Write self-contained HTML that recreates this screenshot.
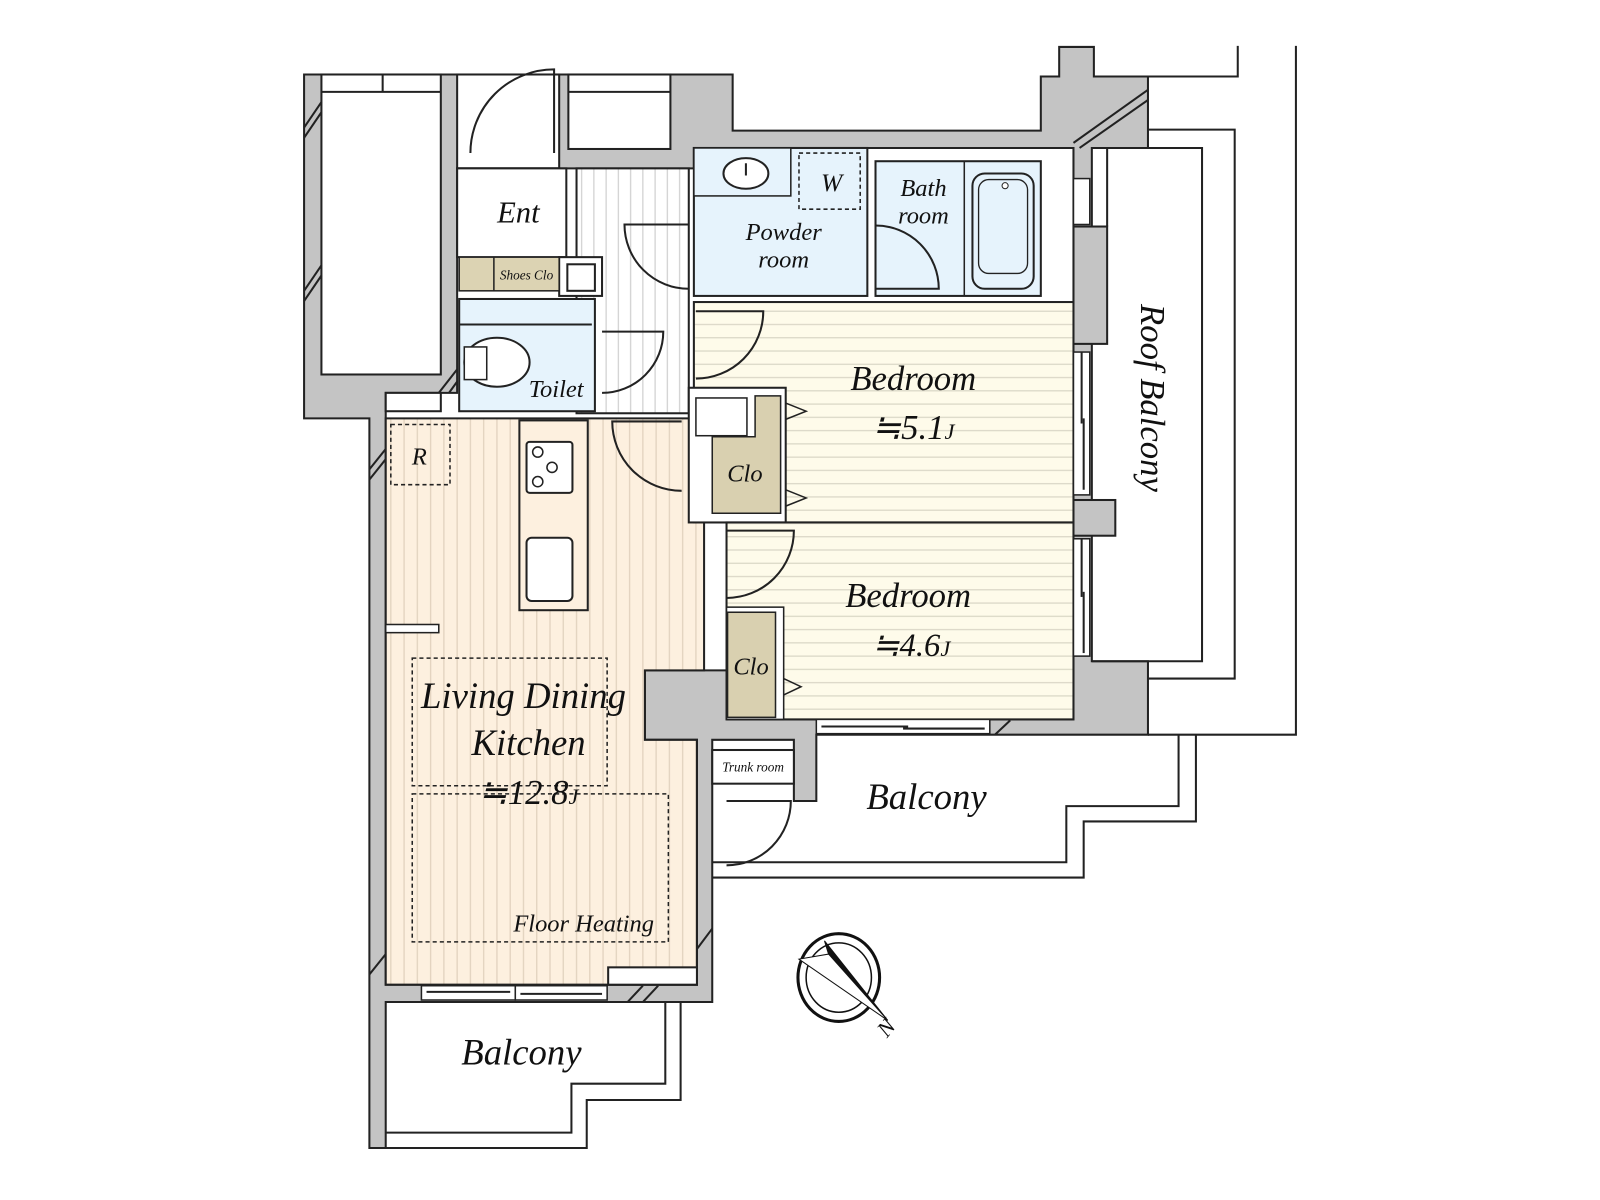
<!DOCTYPE html>
<html><head><meta charset="utf-8"><style>html,body{margin:0;padding:0;background:#fff}svg{display:block}text{font-family:"Liberation Serif",serif;font-style:italic;fill:#111}</style></head><body>
<svg width="1600" height="1200" viewBox="0 0 1568 1176" xmlns="http://www.w3.org/2000/svg">
<defs>
<pattern id="vs" width="13" height="10" patternUnits="userSpaceOnUse"><rect width="13" height="10" fill="#fdf0df"/><line x1="6" y1="0" x2="6" y2="10" stroke="#e2d3bf" stroke-width="1.3"/></pattern>
<pattern id="hv" width="12" height="10" patternUnits="userSpaceOnUse"><rect width="12" height="10" fill="#fff"/><line x1="6" y1="0" x2="6" y2="10" stroke="#cfcfcf" stroke-width="1.2"/></pattern>
<pattern id="hs" width="10" height="13" patternUnits="userSpaceOnUse"><rect width="10" height="13" fill="#fefbea"/><line x1="0" y1="6" x2="10" y2="6" stroke="#d9d6c6" stroke-width="1.2"/></pattern>
</defs>
<g stroke="#222" stroke-width="2" fill="none">
<polyline points="1213,45 1213,75 1072,75"/>
<polyline points="1270,45 1270,720 1125,720"/>
<polyline points="1125,127 1210,127 1210,665 1125,665"/>
<polyline points="1155,720 1155,790 1045,790 1045,845 698,845"/>
<polyline points="1172,720 1172,805 1062,805 1062,860 698,860"/>
<polyline points="652,982 652,1062 560,1062 560,1110 378,1110"/>
<polyline points="667,982 667,1078 575,1078 575,1125 362,1125"/>
</g>
<polygon fill="#c4c4c4" stroke="#222" stroke-width="2" points="298,73 718,73 718,128 1020,128 1020,75 1038,75 1038,46 1072,46 1072,75 1125,75 1125,145 1070,145 1070,648 1125,648 1125,720 800,720 800,785 778,785 778,725 698,725 698,982 378,982 378,1125 362,1125 362,410 298,410"/>
<rect x="1052" y="222" width="33" height="115" fill="#c4c4c4" stroke="#222" stroke-width="2"/>
<rect x="1052" y="490" width="41" height="35" fill="#c4c4c4" stroke="#222" stroke-width="2"/>
<polyline points="1085,222 1085,145 1178,145 1178,648 1070,648" fill="none" stroke="#222" stroke-width="2"/>
<rect x="448" y="73" width="100" height="92" fill="#fff" stroke="#222" stroke-width="2"/>
<rect x="557" y="73" width="100" height="73" fill="#fff" stroke="#222" stroke-width="2"/>
<line x1="557" y1="90" x2="657" y2="90" stroke="#222" stroke-width="2"/>
<rect x="315" y="73" width="117" height="294" fill="#fff" stroke="#222" stroke-width="2"/>
<line x1="315" y1="90" x2="432" y2="90" stroke="#222" stroke-width="2"/>
<line x1="375" y1="73" x2="375" y2="90" stroke="#222" stroke-width="2"/>
<polygon fill="#fff" stroke="#222" stroke-width="2" points="448,165 680,165 680,145 1052,145 1052,705 713,705 713,657 632,657 632,725 683,725 683,965 378,965 378,385 448,385"/>
<rect x="378" y="385" width="54" height="18" fill="#fff" stroke="#222" stroke-width="2"/>
<polygon fill="url(#vs)" stroke="#222" stroke-width="2" points="378,410 690,410 690,657 632,657 632,725 683,725 683,965 378,965"/>
<rect x="596" y="948" width="87" height="17" fill="#fff" stroke="#222" stroke-width="2"/>
<rect x="378" y="612" width="52" height="8" fill="#fff" stroke="#222" stroke-width="1.5"/>
<rect x="565" y="165" width="110" height="240" fill="url(#hv)" stroke="#222" stroke-width="2"/>
<rect x="448" y="165" width="107" height="87" fill="#fff" stroke="#222" stroke-width="2"/>
<rect x="548" y="252" width="42" height="38" fill="#fff" stroke="#222" stroke-width="2"/>
<rect x="556" y="259" width="27" height="26" fill="#fff" stroke="#222" stroke-width="2"/>
<rect x="450" y="252" width="98" height="33" fill="#dcd3b3" stroke="#222" stroke-width="1.5"/>
<line x1="484" y1="252" x2="484" y2="285" stroke="#222" stroke-width="1.5"/>
<rect x="450" y="293" width="133" height="110" fill="#e6f3fc" stroke="#222" stroke-width="2"/>
<line x1="450" y1="318" x2="580" y2="318" stroke="#222" stroke-width="2"/>
<ellipse cx="487" cy="355" rx="32" ry="24" fill="#fff" stroke="#222" stroke-width="2"/>
<rect x="455" y="340" width="22" height="32" fill="#fff" stroke="#222" stroke-width="1.5"/>
<rect x="680" y="145" width="170" height="145" fill="#e6f3fc" stroke="#222" stroke-width="2"/>
<rect x="680" y="145" width="95" height="47" fill="#e6f3fc" stroke="#222" stroke-width="1.5"/>
<ellipse cx="731" cy="170" rx="22" ry="15" fill="#fff" stroke="#222" stroke-width="2"/>
<line x1="731" y1="160" x2="731" y2="172" stroke="#222" stroke-width="2"/>
<rect x="783" y="150" width="60" height="55" fill="none" stroke="#222" stroke-width="1.5" stroke-dasharray="4,3"/>
<rect x="858" y="158" width="162" height="132" fill="#e6f3fc" stroke="#222" stroke-width="2"/>
<line x1="945" y1="158" x2="945" y2="290" stroke="#222" stroke-width="1.5"/>
<rect x="953" y="170" width="60" height="113" rx="12" fill="#e6f3fc" stroke="#222" stroke-width="2"/>
<rect x="959" y="176" width="48" height="92" rx="10" fill="none" stroke="#222" stroke-width="1.3"/>
<circle cx="985" cy="182" r="3" fill="#fff" stroke="#222"/>
<rect x="680" y="296" width="372" height="216" fill="url(#hs)" stroke="#222" stroke-width="2"/>
<rect x="675" y="380" width="95" height="132" fill="#fff" stroke="#222" stroke-width="2"/>
<rect x="682" y="390" width="50" height="37" fill="#fff" stroke="#222" stroke-width="1.5"/>
<polygon points="740,388 765,388 765,503 698,503 698,428 740,428" fill="#d9d0b0" stroke="#222" stroke-width="1.5"/>
<polyline points="770,395 790,403 770,411" fill="none" stroke="#222" stroke-width="1.5"/>
<polyline points="770,480 790,488 770,496" fill="none" stroke="#222" stroke-width="1.5"/>
<rect x="712" y="512" width="340" height="193" fill="url(#hs)" stroke="#222" stroke-width="2"/>
<rect x="712" y="595" width="56" height="110" fill="#fff" stroke="#222" stroke-width="1.5"/>
<rect x="713" y="600" width="47" height="103" fill="#d9d0b0" stroke="#222" stroke-width="1.5"/>
<polyline points="768,665 785,673 768,681" fill="none" stroke="#222" stroke-width="1.5"/>
<g fill="#fff" stroke="#222" stroke-width="1.5">
<rect x="1052" y="175" width="16" height="45"/><rect x="1052" y="345" width="16" height="140"/><rect x="1052" y="528" width="16" height="115"/>
<rect x="800" y="705" width="170" height="14"/><rect x="413" y="966" width="92" height="14"/><rect x="505" y="966" width="90" height="14"/>
</g>
<g stroke="#222" stroke-width="2" fill="none">
<line x1="1060" y1="345" x2="1060" y2="415"/><line x1="1062" y1="410" x2="1062" y2="480"/>
<line x1="1060" y1="528" x2="1060" y2="585"/><line x1="1062" y1="580" x2="1062" y2="640"/>
<line x1="805" y1="712" x2="890" y2="712"/><line x1="885" y1="714" x2="965" y2="714"/>
<line x1="418" y1="972" x2="500" y2="972"/><line x1="510" y1="974" x2="590" y2="974"/>
<line x1="1052" y1="140" x2="1125" y2="88"/><line x1="1058" y1="145" x2="1125" y2="98"/>
<line x1="298" y1="125" x2="315" y2="100"/><line x1="298" y1="135" x2="315" y2="110"/>
<line x1="298" y1="285" x2="315" y2="260"/><line x1="298" y1="295" x2="315" y2="270"/>
<line x1="430" y1="385" x2="448" y2="362"/><line x1="440" y1="385" x2="448" y2="374"/>
<line x1="362" y1="460" x2="378" y2="440"/><line x1="362" y1="470" x2="378" y2="450"/>
<line x1="362" y1="955" x2="378" y2="935"/><line x1="683" y1="930" x2="698" y2="910"/>
<line x1="615" y1="982" x2="630" y2="966"/><line x1="630" y1="982" x2="645" y2="966"/>
<line x1="975" y1="720" x2="990" y2="706"/>
<path d="M543,150 L543,68 A82,82 0 0 0 461,150"/>
<path d="M675,220 L612,220 A63,63 0 0 0 675,283"/>
<path d="M590,325 L650,325 A60,60 0 0 1 590,385"/>
<path d="M858,283 L920,283 A62,62 0 0 0 858,221"/>
<path d="M682,305 L748,305 A66,66 0 0 1 682,371"/>
<path d="M668,413 L600,413 A68,68 0 0 0 668,481"/>
<path d="M712,520 L778,520 A66,66 0 0 1 712,586"/>
<path d="M712,785 L775,785 A63,63 0 0 1 712,848"/>
</g>
<rect x="509" y="412" width="67" height="186" fill="#fdf0df" stroke="#222" stroke-width="2"/>
<rect x="516" y="433" width="45" height="50" rx="3" fill="#fff" stroke="#222" stroke-width="2"/>
<circle cx="527" cy="443" r="5" fill="none" stroke="#222" stroke-width="1.5"/><circle cx="541" cy="458" r="5" fill="none" stroke="#222" stroke-width="1.5"/><circle cx="527" cy="472" r="5" fill="none" stroke="#222" stroke-width="1.5"/>
<rect x="516" y="527" width="45" height="62" rx="5" fill="#fff" stroke="#222" stroke-width="2"/>
<rect x="383" y="416" width="58" height="59" fill="none" stroke="#222" stroke-width="1.5" stroke-dasharray="4,3"/>
<rect x="404" y="645" width="191" height="125" fill="none" stroke="#222" stroke-width="1.5" stroke-dasharray="4,3"/>
<rect x="404" y="778" width="251" height="145" fill="none" stroke="#222" stroke-width="1.5" stroke-dasharray="4,3"/>
<rect x="698" y="735" width="80" height="33" fill="#fff" stroke="#222" stroke-width="2"/>
<g stroke="#111" fill="none">
<ellipse cx="822" cy="958" rx="40" ry="43" stroke-width="3"/>
<ellipse cx="822" cy="958" rx="32" ry="34" stroke-width="1.5"/>
<polygon points="808,922 870,1000 815,945" fill="#111" stroke-width="1"/>
<polygon points="783,940 870,1000 812,935" fill="#fff" stroke-width="1"/>
</g>
<text x="508" y="218" font-size="30" text-anchor="middle">Ent</text>
<text x="516" y="274" font-size="13" text-anchor="middle">Shoes Clo</text>
<text x="545" y="389" font-size="24" text-anchor="middle">Toilet</text>
<text x="768" y="235" font-size="24" text-anchor="middle">Powder</text>
<text x="768" y="262" font-size="24" text-anchor="middle">room</text>
<text x="815" y="187" font-size="25" text-anchor="middle">W</text>
<text x="905" y="192" font-size="24" text-anchor="middle">Bath</text>
<text x="905" y="219" font-size="24" text-anchor="middle">room</text>
<text x="895" y="382" font-size="34" text-anchor="middle">Bedroom</text>
<text x="895" y="430" font-size="34" text-anchor="middle">≒5.1<tspan font-size="22">J</tspan></text>
<text x="730" y="472" font-size="24" text-anchor="middle">Clo</text>
<text x="890" y="595" font-size="34" text-anchor="middle">Bedroom</text>
<text x="893" y="643" font-size="32" text-anchor="middle">≒4.6<tspan font-size="22">J</tspan></text>
<text x="736" y="661" font-size="24" text-anchor="middle">Clo</text>
<text x="513" y="694" font-size="36" text-anchor="middle">Living Dining</text>
<text x="518" y="740" font-size="36" text-anchor="middle">Kitchen</text>
<text x="518" y="788" font-size="34" text-anchor="middle">≒12.8<tspan font-size="22">J</tspan></text>
<text x="572" y="913" font-size="24" text-anchor="middle">Floor Heating</text>
<text x="411" y="455" font-size="24" text-anchor="middle">R</text>
<text x="738" y="756" font-size="13" text-anchor="middle">Trunk room</text>
<text x="908" y="793" font-size="36" text-anchor="middle">Balcony</text>
<text x="511" y="1043" font-size="36" text-anchor="middle">Balcony</text>
<text x="0" y="0" font-size="34" text-anchor="middle" transform="translate(1118,390) rotate(90)">Roof Balcony</text>
<text x="0" y="0" font-size="22" text-anchor="middle" transform="translate(874,1012) rotate(-50)">N</text>
</svg>
</body></html>
